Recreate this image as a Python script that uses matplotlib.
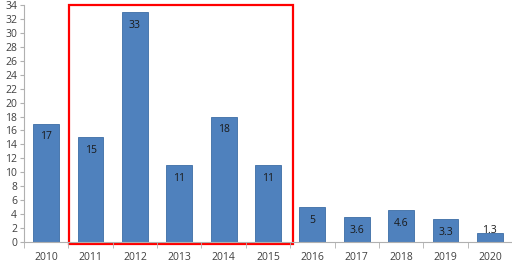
import matplotlib
matplotlib.use('Agg')
import matplotlib.pyplot as plt
from matplotlib.patches import Rectangle

# data
years = ['2010', '2011', '2012', '2013', '2014', '2015', '2016', '2017', '2018', '2019', '2020']
values = [17, 15, 33, 11, 18, 11, 5, 3.6, 4.6, 3.3, 1.3]
labels = ['17', '15', '33', '11', '18', '11', '5', '3.6', '4.6', '3.3', '1.3']

plt.rcParams['font.family'] = ['Open Sans', 'DejaVu Sans']

fig = plt.figure(figsize=(5.12, 2.65), dpi=100)
ax = fig.add_axes([24 / 512, 23 / 265, 488 / 512, 237 / 265])

x = list(range(len(years)))
ax.bar(x, values, width=0.58, color='#4F81BD', edgecolor='#3C6DA5', linewidth=0.6)

for xi, v, lab in zip(x, values, labels):
    if v < 2:
        off = 2
    else:
        off = -9.5
    ax.annotate(lab, (xi, v), xytext=(0, off), textcoords='offset points',
                ha='center', va='center', fontsize=7.5, color='#1a1a1a')

ax.set_xlim(-0.5, len(years) - 0.5)
ax.set_ylim(0, 34)
ax.set_yticks(range(0, 35, 2))
ax.set_xticks(x)
ax.set_xticklabels(years)
ax.set_xticks([i + 0.5 for i in range(-1, len(years))], minor=True)
ax.tick_params(axis='x', which='major', length=0, pad=7.5, labelsize=7.5, labelcolor='#404040')
ax.tick_params(axis='x', which='minor', length=4, color='#b0b0b0', direction='out')
ax.tick_params(axis='y', length=3, color='#b0b0b0', pad=2, labelsize=7.5, labelcolor='#404040')

for s in ['top', 'right']:
    ax.spines[s].set_visible(False)
ax.spines['left'].set_color('#b0b0b0')
ax.spines['bottom'].set_color('#b0b0b0')

# red box around 2011-2015
box = Rectangle((0.51, -0.35), 5.06, 34.3, fill=False, edgecolor='#ff0000', linewidth=1.6, clip_on=False)
ax.add_patch(box)

fig.savefig('out.png', dpi=100)
